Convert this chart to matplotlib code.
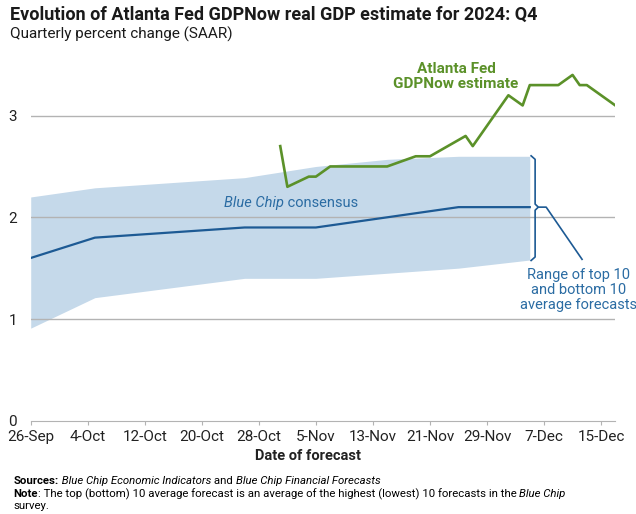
import pandas as pd
import matplotlib

matplotlib.use("Agg")
import matplotlib.pyplot as plt
import matplotlib.dates as mdates
from matplotlib.transforms import offset_copy


# Blue Chip consensus and the band of top/bottom 10 averages.
bc_dates = ["2024-09-26", "2024-10-05", "2024-10-26", "2024-11-05",
            "2024-11-15", "2024-11-25", "2024-12-05"]
bc_consensus = [1.6, 1.8, 1.9, 1.9, 2.0, 2.1, 2.1]
bc_top10 = [2.2, 2.29, 2.39, 2.5, 2.57, 2.6, 2.6]
bc_bottom10 = [0.91, 1.21, 1.4, 1.4, 1.45, 1.5, 1.58]

# Atlanta Fed GDPNow estimates.
gdpnow_dates = ["2024-10-31", "2024-11-01", "2024-11-04", "2024-11-05",
                "2024-11-07", "2024-11-15", "2024-11-19", "2024-11-21",
                "2024-11-26", "2024-11-27", "2024-12-02", "2024-12-04",
                "2024-12-05", "2024-12-09", "2024-12-11", "2024-12-12",
                "2024-12-13", "2024-12-17"]
gdpnow_values = [2.7, 2.3, 2.4, 2.4, 2.5, 2.5, 2.6, 2.6, 2.8, 2.7,
                 3.2, 3.1, 3.3, 3.3, 3.4, 3.3, 3.3, 3.1]

y_ticks = [0, 1, 2, 3]

GREEN = "#5b9129"
BLUE = "#1d5a94"
BLUE_TEXT = "#2b6ca3"
BAND = "#c5d9ea"
GRID = "#b3b3b3"
FONT = ["Roboto", "DejaVu Sans"]


def main():
    plt.rcParams["font.family"] = FONT
    fig = plt.figure(figsize=[6.36, 5.14], dpi=100)
    ax = fig.add_axes([0.0483, 0.1815, 0.9192, 0.7123])

    bc_x = pd.to_datetime(bc_dates)
    gn_x = pd.to_datetime(gdpnow_dates)

    # Band, gridlines, then the two lines on top.
    ax.fill_between(bc_x, bc_bottom10, bc_top10, color=BAND, lw=0, zorder=1)
    for y in y_ticks[1:]:
        ax.axhline(y, color=GRID, lw=1, zorder=1.5)
    ax.plot(bc_x, bc_consensus, color=BLUE, lw=1.6, zorder=3)
    ax.plot(gn_x, gdpnow_values, color=GREEN, lw=1.9, zorder=4)

    # Axes styling.
    ax.set_ylim(0, 3.6)
    ax.set_xlim(pd.Timestamp("2024-09-26"), pd.Timestamp("2024-12-17"))
    for side in ["top", "right", "left"]:
        ax.spines[side].set_visible(False)
    ax.spines["bottom"].set_color(GRID)
    ax.set_yticks(y_ticks)
    ax.tick_params(axis="y", length=0, pad=10, labelsize=11, labelcolor="#222222")
    ticks = pd.date_range("2024-09-26", periods=11, freq="8D")
    ax.set_xticks(ticks)
    ax.xaxis.set_major_formatter(mdates.DateFormatter("%-d-%b"))
    ax.tick_params(axis="x", length=3, color=GRID, pad=4, labelsize=11,
                   labelcolor="#222222")
    ax.set_xlabel("Date of forecast", fontsize=10.5, weight="bold",
                  color="#222222", labelpad=3, x=0.474)

    # Series labels.
    ax.text(pd.Timestamp("2024-11-24") + pd.Timedelta(hours=16), 3.24,
            "Atlanta Fed\nGDPNow estimate",
            color=GREEN, weight="bold", fontsize=11, ha="center", va="bottom",
            linespacing=1.15)
    rich_text(fig, mdates.date2num(pd.Timestamp("2024-10-23")) + 0.1, 2.1,
              [("Blue Chip", "italic", "normal"), (" consensus", "normal", "normal")],
              ax.transData, color=BLUE_TEXT, fontsize=10.5, va="baseline")

    # Bracket for the band range and its note.
    draw_bracket(ax, bc_x[-1], bc_top10[-1], bc_bottom10[-1])
    ax.text(pd.Timestamp("2024-12-05") + pd.Timedelta(days=6.8), 1.50,
            "Range of top 10\nand bottom 10\naverage forecasts",
            color=BLUE_TEXT, fontsize=10.5, ha="center", va="top", linespacing=1.1)

    # Titles.
    fig.text(0.016, 0.988, "Evolution of Atlanta Fed GDPNow real GDP estimate for 2024: Q4",
             fontsize=13, weight="bold", color="#1a1a1a", va="top")
    fig.text(0.016, 0.948, "Quarterly percent change (SAAR)", fontsize=11,
             color="#1a1a1a", va="top")

    # Footer notes.
    rich_text(fig, 0.021, 0.058,
              [("Sources:", "normal", "bold"),
               (" Blue Chip Economic Indicators", "italic", "normal"),
               (" and ", "normal", "normal"),
               ("Blue Chip Financial Forecasts", "italic", "normal")],
              fig.transFigure, fontsize=8.2, va="baseline")
    rich_text(fig, 0.021, 0.033,
              [("Note", "normal", "bold"),
               (": The top (bottom) 10 average forecast is an average of the highest "
                "(lowest) 10 forecasts in the ", "normal", "normal"),
               ("Blue Chip", "italic", "normal")],
              fig.transFigure, fontsize=8.2, va="baseline")
    fig.text(0.021, 0.010, "survey.", fontsize=8.2, va="baseline")

    plt.savefig("out.png", dpi=100)


def rich_text(fig, x, y, pieces, transform, **kwargs):
    # Write pieces of text one after another, each with its own style.
    renderer = fig.canvas.get_renderer()
    dx = 0
    for text, style, weight in pieces:
        tr = offset_copy(transform, fig=fig, x=dx, y=0, units="dots")
        t = fig.text(x, y, text, transform=tr, style=style, weight=weight, **kwargs)
        dx += t.get_window_extent(renderer).width


def draw_bracket(ax, end_date, top, bottom):
    day = pd.Timedelta(days=1)
    x0 = end_date + 0.1 * day
    x1 = end_date + 0.75 * day
    x2 = end_date + 1.2 * day
    mid = (top + bottom) / 2 + 0.01
    kw = dict(color=BLUE, lw=1.2, zorder=5, solid_capstyle="butt")
    ax.plot([x0, x1, x1, x2, x1, x1, x0],
            [top + 0.01, top - 0.03, mid + 0.03, mid, mid - 0.03, bottom + 0.03, bottom - 0.01],
            **kw)
    ax.plot([x2, end_date + 2.3 * day, end_date + 7.4 * day],
            [mid, mid, bottom], **kw)


if __name__ == "__main__":
    main()
